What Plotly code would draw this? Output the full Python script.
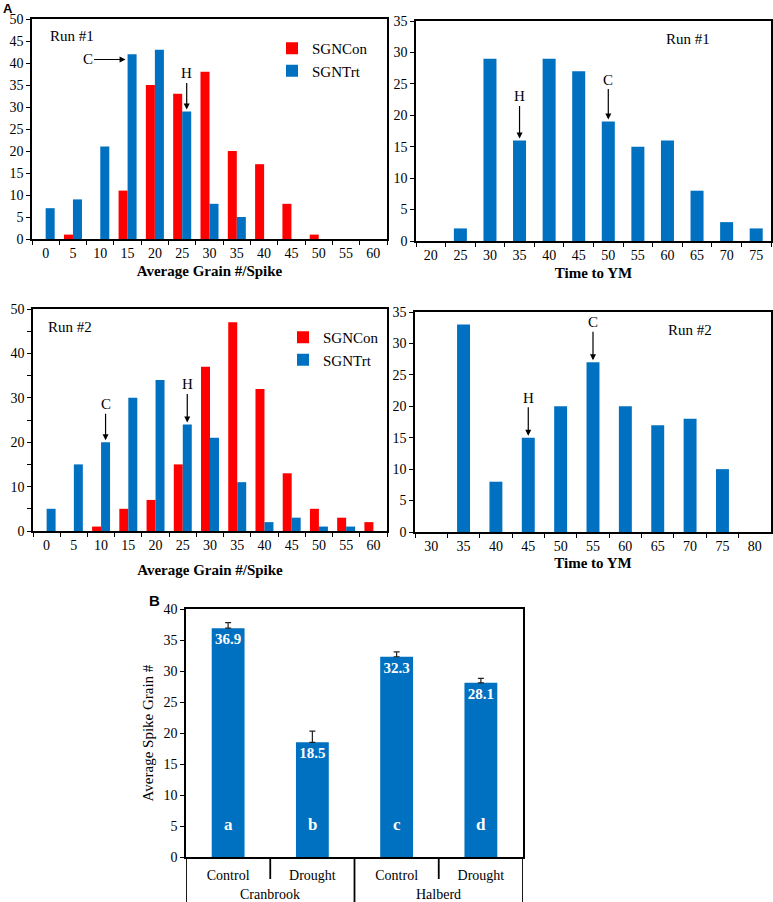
import plotly.graph_objects as go

# ---------------- data ----------------
grain_bins = ["0", "5", "10", "15", "20", "25", "30", "35", "40", "45", "50", "55", "60"]
run1_con = [0, 1, 0, 11, 35, 33, 38, 20, 17, 8, 1, 0, 0]
run1_trt = [7, 9, 21, 42, 43, 29, 8, 5, 0, 0, 0, 0, 0]
run2_con = [0, 0, 1, 5, 7, 15, 37, 47, 32, 13, 5, 3, 2]
run2_trt = [5, 15, 20, 30, 34, 24, 21, 11, 2, 3, 1, 1, 0]

ym1_bins = ["20", "25", "30", "35", "40", "45", "50", "55", "60", "65", "70", "75"]
ym1_counts = [0, 2, 29, 16, 29, 27, 19, 15, 16, 8, 3, 2]
ym2_bins = ["30", "35", "40", "45", "50", "55", "60", "65", "70", "75", "80"]
ym2_counts = [0, 33, 8, 15, 20, 27, 20, 17, 18, 10, 0]

cultivars = ["Cranbrook", "Cranbrook", "Halberd", "Halberd"]
treatments = ["Control", "Drought", "Control", "Drought"]
spike_mean = [36.9, 18.5, 32.3, 28.1]
spike_err = [0.9, 1.8, 0.8, 0.7]
sig_letters = ["a", "b", "c", "d"]

RED = "#FF0000"
BLUE = "#0070C0"
SERIF = "Liberation Serif, Times New Roman, serif"
SANS = "Liberation Sans, Arial, sans-serif"

W, H = 773, 902
def px_x(p): return p / W
def px_y(p): return 1 - p / H

fig = go.Figure()

GW = 0.33  # grouped bar width (category units)
noedge = dict(width=0)

# Panel A, run 1 grain
fig.add_trace(go.Bar(x=grain_bins, y=run1_con, name="SGNCon", marker=dict(color=RED, line=noedge),
                     width=GW, offset=-GW, xaxis="x", yaxis="y", legend="legend"))
fig.add_trace(go.Bar(x=grain_bins, y=run1_trt, name="SGNTrt", marker=dict(color=BLUE, line=noedge),
                     width=GW, offset=0, xaxis="x", yaxis="y", legend="legend"))
# Panel A, run 1 time to YM
fig.add_trace(go.Bar(x=ym1_bins, y=ym1_counts, marker=dict(color=BLUE, line=noedge), width=0.44,
                     xaxis="x2", yaxis="y2", showlegend=False))
# Panel A, run 2 grain
fig.add_trace(go.Bar(x=grain_bins, y=run2_con, name="SGNCon", marker=dict(color=RED, line=noedge),
                     width=GW, offset=-GW, xaxis="x3", yaxis="y3", legend="legend2"))
fig.add_trace(go.Bar(x=grain_bins, y=run2_trt, name="SGNTrt", marker=dict(color=BLUE, line=noedge),
                     width=GW, offset=0, xaxis="x3", yaxis="y3", legend="legend2"))
# Panel A, run 2 time to YM
fig.add_trace(go.Bar(x=ym2_bins, y=ym2_counts, marker=dict(color=BLUE, line=noedge), width=0.40,
                     xaxis="x4", yaxis="y4", showlegend=False))
# Panel B
xb = list(range(len(treatments)))
fig.add_trace(go.Bar(x=xb, y=spike_mean, marker=dict(color=BLUE, line=noedge), width=0.39,
                     text=[f"<b>{v:.1f}</b>" for v in spike_mean], textposition="inside",
                     insidetextanchor="end",
                     textfont=dict(family=SERIF, size=15, color="white"),
                     error_y=dict(type="data", array=spike_err, arrayminus=[0]*len(spike_err),
                                  symmetric=False, color="#222222", thickness=1.2, width=3),
                     xaxis="x5", yaxis="y5", showlegend=False))

# ---------------- axes ----------------
line = dict(showline=True, linecolor="black", linewidth=1.5, mirror=True,
            showgrid=False, zeroline=False, automargin=False)
tickf = dict(family=SERIF, size=14, color="black")
def xcat(domain, anchor, title, standoff):
    return dict(domain=domain, anchor=anchor, type="category", tickson="boundaries",
                ticks="outside", ticklen=4, tickcolor="black", tickfont=tickf,
                title=dict(text=f"<b>{title}</b>", font=dict(family=SERIF, size=15, color="black"),
                           standoff=standoff), **line)
def yax(domain, anchor, rng, dtick, minor=None):
    d = dict(domain=domain, anchor=anchor, range=rng, dtick=dtick, ticks="outside",
             ticklen=4, tickcolor="black", tickfont=tickf, **line)
    if minor:
        d["minor"] = dict(dtick=minor, ticks="outside", ticklen=4, tickcolor="black")
    return d

fig.update_layout(
    xaxis=xcat([px_x(32), px_x(387)], "y", "Average Grain #/Spike", 6),
    yaxis=yax([px_y(239), px_y(19)], "x", [0, 50], 5),
    xaxis2=xcat([px_x(416), px_x(771)], "y2", "Time to YM", 6),
    yaxis2=yax([px_y(241), px_y(21)], "x2", [0, 35], 5),
    xaxis3=xcat([px_x(33), px_x(387)], "y3", "Average Grain #/Spike", 13),
    yaxis3=yax([px_y(531), px_y(309)], "x3", [0, 50], 10, minor=5),
    xaxis4=xcat([px_x(415), px_x(771)], "y4", "Time to YM", 5),
    yaxis4=yax([px_y(532), px_y(312)], "x4", [0, 35], 5),
    xaxis5=dict(domain=[px_x(186), px_x(523)], anchor="y5", range=[-0.5, len(treatments) - 0.5],
                tickvals=xb, ticktext=treatments, ticks="", ticklabelstandoff=4,
                tickfont=dict(family=SERIF, size=14, color="black"), **line),
    yaxis5=dict(domain=[px_y(857), px_y(609)], anchor="x5", range=[0, 40], dtick=5,
                ticks="outside", ticklen=4, tickcolor="black",
                tickfont=dict(family=SERIF, size=14, color="black"),
                title=dict(text="Average Spike Grain #", font=dict(family=SERIF, size=15, color="black"),
                           standoff=6), **line),
)

legend_style = dict(font=dict(family=SERIF, size=15, color="black"), bgcolor="rgba(0,0,0,0)",
                    itemwidth=30, tracegroupgap=0, xanchor="left", yanchor="top")
fig.update_layout(
    legend=dict(x=px_x(272), y=px_y(32), **legend_style),
    legend2=dict(x=px_x(283), y=px_y(321), **legend_style),
)

# ---------------- annotations ----------------
ann = []
def txt(xref, yref, x, y, text, xanchor="left", size=15):
    ann.append(dict(xref=xref, yref=yref, x=x, y=y, text=text, showarrow=False,
                    xanchor=xanchor, yanchor="middle", font=dict(family=SERIF, size=size, color="black")))

txt("x domain", "y domain", 0.045, 0.923, "Run #1")
txt("x2 domain", "y2 domain", 0.766, 0.918, "Run #1", xanchor="center")
txt("x3 domain", "y3 domain", 0.037, 0.919, "Run #2")
txt("x4 domain", "y4 domain", 0.772, 0.918, "Run #2", xanchor="center")

def arrow(xa, ya, bins, values, cat, shift, label, ax, ay, dyv=0.0):
    i = bins.index(cat)
    ann.append(dict(xref=xa, yref=ya, x=i + shift, y=values[i] + dyv, text=label,
                    showarrow=True, arrowhead=2, arrowsize=1, arrowwidth=1.2, arrowcolor="black",
                    ax=ax, ay=ay, standoff=2, font=dict(family=SERIF, size=15, color="black")))

arrow("x", "y", grain_bins, run1_trt, "15", 0.0, "C", -40, 0, dyv=-1.2)
arrow("x", "y", grain_bins, run1_trt, "25", GW / 2, "H", 0, -38)
arrow("x2", "y2", ym1_bins, ym1_counts, "35", 0, "H", 0, -44)
arrow("x2", "y2", ym1_bins, ym1_counts, "50", 0, "C", 0, -42)
arrow("x3", "y3", grain_bins, run2_trt, "10", GW / 2, "C", 0, -38)
arrow("x3", "y3", grain_bins, run2_trt, "25", GW / 2, "H", 0, -40)
arrow("x4", "y4", ym2_bins, ym2_counts, "45", 0, "H", 0, -40)
arrow("x4", "y4", ym2_bins, ym2_counts, "55", 0, "C", 0, -40)

# significance letters inside panel B bars
for i, s in enumerate(sig_letters):
    ann.append(dict(xref="x5", yref="y5", x=i, y=5.3, text=f"<b>{s}</b>", showarrow=False,
                    font=dict(family=SERIF, size=17, color="white")))

# cultivar group labels under panel B
groups = []
for c in cultivars:
    if c not in groups:
        groups.append(c)
for g in groups:
    idx = [i for i, c in enumerate(cultivars) if c == g]
    ann.append(dict(xref="x5", yref="paper", x=sum(idx) / len(idx), y=px_y(894), text=g,
                    showarrow=False, yanchor="middle",
                    font=dict(family=SERIF, size=14, color="black")))

# panel letters
ann.append(dict(xref="paper", yref="paper", x=px_x(1), y=px_y(8), text="<b>A</b>", showarrow=False,
                xanchor="left", yanchor="middle", font=dict(family=SANS, size=13, color="black")))
ann.append(dict(xref="paper", yref="paper", x=px_x(147), y=px_y(600), text="<b>B</b>", showarrow=False,
                xanchor="left", yanchor="middle", font=dict(family=SANS, size=15, color="black")))

# divider lines of the two-level category axis in panel B
shapes = []
n = len(treatments)
for k in range(n + 1):
    xpos = k - 0.5
    outer = k == 0 or k == n or cultivars[k - 1] != cultivars[k]
    shapes.append(dict(type="line", xref="x5", yref="paper", x0=xpos, x1=xpos,
                       y0=px_y(857), y1=px_y(902) if outer else px_y(879),
                       line=dict(color="black", width=1.8)))

fig.update_layout(annotations=ann, shapes=shapes, width=W, height=H, autosize=False,
                  margin=dict(l=0, r=0, t=0, b=0, autoexpand=False),
                  plot_bgcolor="white", paper_bgcolor="white",
                  barmode="overlay", font=dict(family=SERIF, color="black"))

fig.write_html("out.html", config={"displayModeBar": False, "responsive": False},
               post_script="document.body.style.margin='0';document.body.style.overflow='hidden';")
